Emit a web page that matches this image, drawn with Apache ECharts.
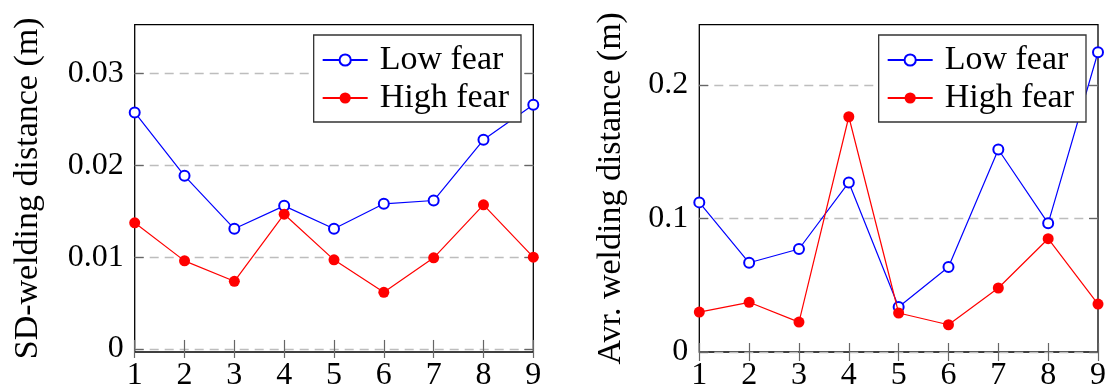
<!DOCTYPE html>
<html>
<head>
<meta charset="utf-8">
<script src="https://cdn.jsdelivr.net/npm/echarts@6/dist/echarts.min.js"></script>
<style>
  html, body { margin: 0; padding: 0; background: #fff; }
  #chart { width: 1109px; height: 392px; }
</style>
</head>
<body>
<div id="chart"></div>
<script>
// Sessions on the x axis
const categories = ['1', '2', '3', '4', '5', '6', '7', '8', '9'];

// Standard deviation of the welding distance (m)
const sdLowFear  = [0.02575, 0.01885, 0.01308, 0.01558, 0.01308, 0.01580, 0.01616, 0.02277, 0.02659];
const sdHighFear = [0.01373, 0.00959, 0.00737, 0.01467, 0.00970, 0.00617, 0.00992, 0.01569, 0.00999];

// Average welding distance (m)
const avgLowFear  = [0.1120, 0.0668, 0.0771, 0.1269, 0.0337, 0.0636, 0.1516, 0.0963, 0.2244];
const avgHighFear = [0.0299, 0.0372, 0.0224, 0.1761, 0.0292, 0.0204, 0.0479, 0.0848, 0.0359];

// Y tick values
const sdTicks  = [0, 0.01, 0.02, 0.03];
const avgTicks = [0, 0.1, 0.2];

const FONT = 'Liberation Serif';
const LOW = 'Low fear';
const HIGH = 'High fear';

const tickStyle = { show: true, inside: true, length: 9, lineStyle: { color: '#666', width: 1.2 } };

function xAxes(gridIndex) {
  return [
    {
      type: 'category', gridIndex, data: categories, boundaryGap: false,
      axisLine: { show: false },
      axisTick: tickStyle,
      axisLabel: { margin: 8, fontFamily: FONT, fontSize: 32, color: '#000' },
      splitLine: { show: false }
    },
    {
      type: 'category', gridIndex, data: categories, boundaryGap: false, position: 'top',
      axisLine: { show: false },
      axisTick: tickStyle,
      axisLabel: { show: false },
      splitLine: { show: false }
    }
  ];
}

function yAxes(gridIndex, min, max, ticks, name, nameGap) {
  return [
    {
      type: 'value', gridIndex, min, max,
      name, nameLocation: 'middle', nameGap, nameRotate: 90,
      nameTextStyle: { fontFamily: FONT, fontSize: 34, color: '#000' },
      axisLine: { show: false },
      axisTick: Object.assign({}, tickStyle, { customValues: ticks }),
      axisLabel: { margin: 11, fontFamily: FONT, fontSize: 32, color: '#000', customValues: ticks },
      splitLine: { show: true, lineStyle: { color: '#bdbdbd', width: 1.3, type: [9, 6] } }
    },
    {
      type: 'value', gridIndex, min, max, position: 'right',
      axisLine: { show: false },
      axisTick: Object.assign({}, tickStyle, { customValues: ticks }),
      axisLabel: { show: false, customValues: ticks },
      splitLine: { show: false }
    }
  ];
}

function lowSeries(xi, yi, values) {
  return {
    name: LOW, type: 'line', xAxisIndex: xi, yAxisIndex: yi, data: values,
    symbol: 'emptyCircle', symbolSize: 10, clip: false,
    lineStyle: { color: '#0000ff', width: 1.2 },
    itemStyle: { color: '#0000ff', borderColor: '#0000ff', borderWidth: 1.2 },
    emphasis: { disabled: true }, z: 3
  };
}

function highSeries(xi, yi, values) {
  return {
    name: HIGH, type: 'line', xAxisIndex: xi, yAxisIndex: yi, data: values,
    symbol: 'circle', symbolSize: 11, clip: false,
    lineStyle: { color: '#ff0000', width: 1.2 },
    itemStyle: { color: '#ff0000' },
    emphasis: { disabled: true }, z: 4
  };
}

function legendBox(right) {
  return {
    orient: 'vertical', right, top: 35,
    data: [LOW, HIGH],
    backgroundColor: '#fff',
    borderColor: '#333', borderWidth: 1.3,
    padding: [8, 12, 7, 8],
    itemWidth: 45, itemHeight: 14, itemGap: 4,
    selectedMode: false,
    textStyle: { fontFamily: FONT, fontSize: 34, color: '#000', padding: [0, 0, 0, 7] }
  };
}

const chart = echarts.init(document.getElementById('chart'), null, { renderer: 'canvas' });

chart.setOption({
  animation: false,
  backgroundColor: '#fff',
  grid: [
    { left: 134.7, right: 575.7, top: 24.7, bottom: 39.7, show: true, borderColor: '#000', borderWidth: 1.3, backgroundColor: 'transparent' },
    { left: 699.3, right: 10.5, top: 24.7, bottom: 40, show: true, borderColor: '#000', borderWidth: 1.3, backgroundColor: 'transparent' }
  ],
  xAxis: xAxes(0).concat(xAxes(1)),
  yAxis: yAxes(0, -0.00033, 0.0353, sdTicks, 'SD-welding distance (m)', 90)
    .concat(yAxes(1, 0, 0.245, avgTicks, 'Avr. welding distance (m)', 71)),
  legend: [legendBox(588), legendBox(23)],
  series: [
    lowSeries(0, 0, sdLowFear),
    highSeries(0, 0, sdHighFear),
    lowSeries(2, 2, avgLowFear),
    highSeries(2, 2, avgHighFear)
  ]
});
</script>
</body>
</html>
